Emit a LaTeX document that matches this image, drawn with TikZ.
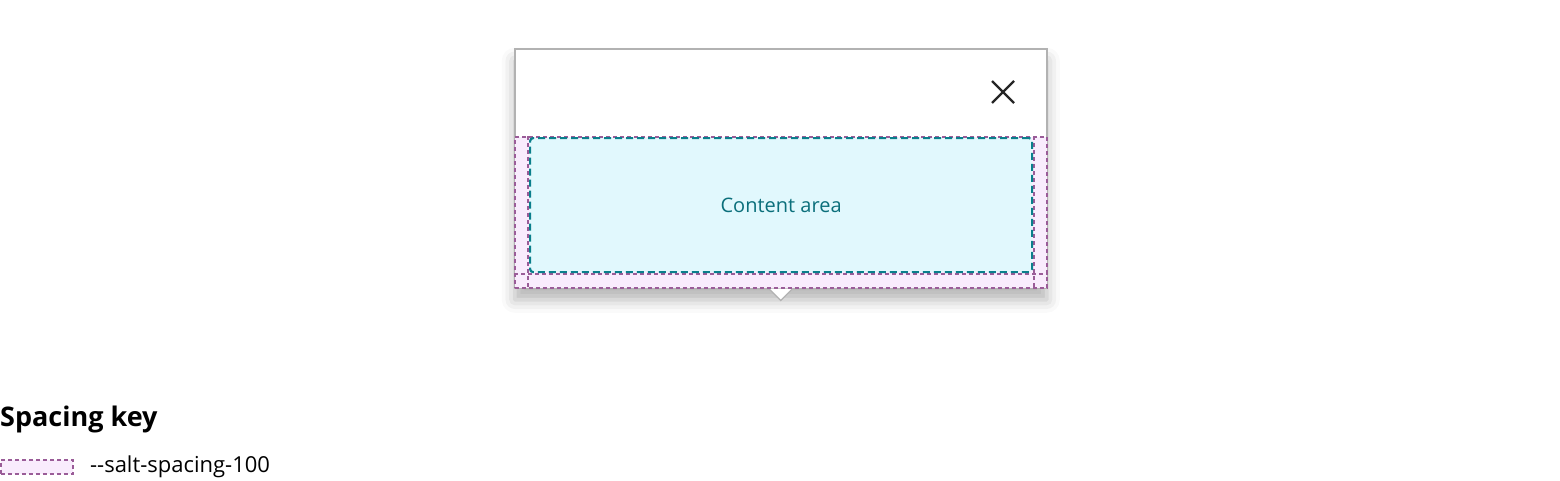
\documentclass[tikz,border=0pt]{standalone}
\usepackage{fontspec}
\setmainfont{Open Sans}
\usetikzlibrary{positioning,shadows.blur}
\definecolor{padfill}{HTML}{F9ECFD}
\definecolor{padstroke}{HTML}{9A5C98}
\definecolor{areafill}{HTML}{E1F8FD}
\definecolor{areastroke}{HTML}{0A7F8C}
\definecolor{areatext}{HTML}{0B6F7B}
\definecolor{framegray}{HTML}{B2B2B2}
\begin{document}
\begin{tikzpicture}[x=1pt, y=-1pt, node distance=16pt]
  \tikzstyle{dialog}=[rectangle, draw=framegray, fill=white, line width=1.5pt, inner sep=0pt,
    blur shadow={shadow xshift=0pt, shadow yshift=-12pt, shadow blur radius=13pt, shadow opacity=30}]
  \tikzstyle{pad}=[rectangle, draw=padstroke, fill=padfill, line width=1.9pt, dash pattern=on 4pt off 3pt, inner sep=0pt]
  \tikzstyle{padrule}=[draw=padstroke, line width=1.9pt, dash pattern=on 4pt off 3pt]
  \tikzstyle{area}=[rectangle, draw=areastroke, fill=areafill, line width=2.2pt, dash pattern=on 7pt off 4pt,
    rounded corners=3pt, text=areatext, font=\fontsize{20}{24}\selectfont]
  \useasboundingbox (0,0) rectangle (1560,480);
  % popover
  \node[dialog, anchor=north west, minimum width=532pt, minimum height=239pt] (dialog) at (514,48) {};
  \draw[framegray, fill=white, line width=1.2pt] ([xshift=-12pt]dialog.south) -- ([yshift=-12pt]dialog.south)
    -- ([xshift=12pt]dialog.south);
  \node[pad, anchor=north west, minimum width=532pt, minimum height=151pt] (padding) at (514,136) {};
  \draw[padrule] ([xshift=14pt]padding.north west) -- ([xshift=14pt]padding.south west);
  \draw[padrule] ([xshift=-14pt]padding.north east) -- ([xshift=-14pt]padding.south east);
  \draw[padrule] ([yshift=15pt]padding.south west) -- ([yshift=15pt]padding.south east);
  \node[area, anchor=north west, minimum width=502pt, minimum height=134pt] (content) at (529,137) {Content area};
  \coordinate (close) at (1003,92);
  \draw[black!85, line width=2.4pt] ([shift={(-11pt,11pt)}]close) -- ([shift={(11pt,-11pt)}]close)
    ([shift={(-11pt,-11pt)}]close) -- ([shift={(11pt,11pt)}]close);
  % key
  \node[anchor=west, inner sep=0pt, font=\bfseries\fontsize{27}{31}\selectfont] (keytitle) at (0,419) {Spacing key};
  \node[pad, anchor=north west, minimum width=72pt, minimum height=14pt] (swatch) at (0,459) {};
  \node[right=of swatch, inner sep=0pt, font=\fontsize{22}{26}\selectfont] (swatchlabel) {-{}-salt-spacing-100};
\end{tikzpicture}
\end{document}
